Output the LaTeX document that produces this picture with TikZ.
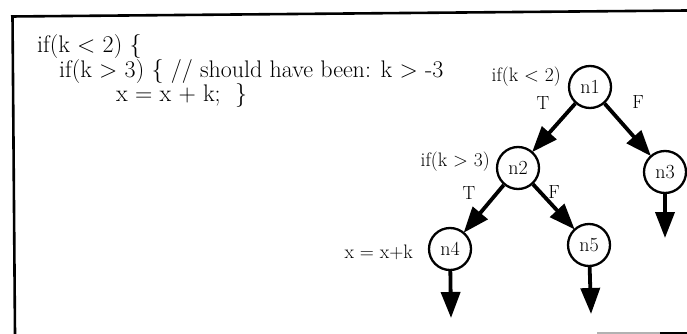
\documentclass[tikz,border=0pt]{standalone}
\usepackage{fontspec}
\usetikzlibrary{arrows.meta}
\newcommand{\heavier}{\addfontfeature{FakeBold=0.6}}
\tikzset{
  cfgnode/.style={circle, draw, line width=2.3pt, minimum size=42pt, inner sep=0pt, font=\fontsize{20}{22}\selectfont\heavier},
  edge/.style={line width=3.8pt, -{Triangle[length=26pt,width=19pt]}, shorten >=-1pt},
  codeline/.style={anchor=base west, inner sep=0pt, font=\fontsize{24}{27}\selectfont\heavier},
  lbl/.style={inner sep=0pt, font=\fontsize{19.5}{22}\selectfont\heavier},
  tf/.style={inner sep=0pt, font=\fontsize{19}{21}\selectfont\heavier},
  frameline/.style={line width=2.6pt}
}
\begin{document}
\begin{tikzpicture}[x=1pt,y=-1pt]
\useasboundingbox (0,0) rectangle (687,334);
% frame
\draw[frameline] (11,16.5) -- (687,10.5);
\draw[frameline] (12.5,15.5) -- (15,334);
\draw[line width=2pt, gray!60] (597,333) -- (660,333);
\draw[line width=2pt] (660,333) -- (687,333);
% code
\node[codeline] (c1) at (37,53) {if(k < 2) \{};
\node[codeline] (c2) at (59,78) {if(k > 3) \{ // should have been: k > -3};
\node[codeline] (c3) at (116,102) {x = x + k;~~\}};
% graph nodes
\node[cfgnode] (n1) at (590,87) {n1};
\node[cfgnode] (n2) at (518,168) {n2};
\node[cfgnode] (n3) at (665,172) {n3};
\node[cfgnode] (n4) at (450,249) {n4};
\node[cfgnode] (n5) at (589,245) {n5};
\coordinate (e3) at (665,237);
\coordinate (e4) at (451,317);
\coordinate (e5) at (591,313);
% labels
\node[lbl, anchor=base east] (l1) at (561,82) {if(k < 2)};
\node[lbl, anchor=base east] (l2) at (490,166) {if(k > 3)};
\node[lbl, anchor=base east] (l4) at (413,258) {x = x+k};
\node[tf] (t1) at (543,103) {T};
\node[tf] (f1) at (638,102) {F};
\node[tf] (t2) at (469,193) {T};
\node[tf] (f2) at (554,192) {F};
% edges
\draw[edge] (n1) -- (n2);
\draw[edge] (n1) -- (n3);
\draw[edge] (n2) -- (n4);
\draw[edge] (n2) -- (n5);
\draw[edge] (n3) -- (e3);
\draw[edge] (n4) -- (e4);
\draw[edge] (n5) -- (e5);
\end{tikzpicture}
\end{document}
